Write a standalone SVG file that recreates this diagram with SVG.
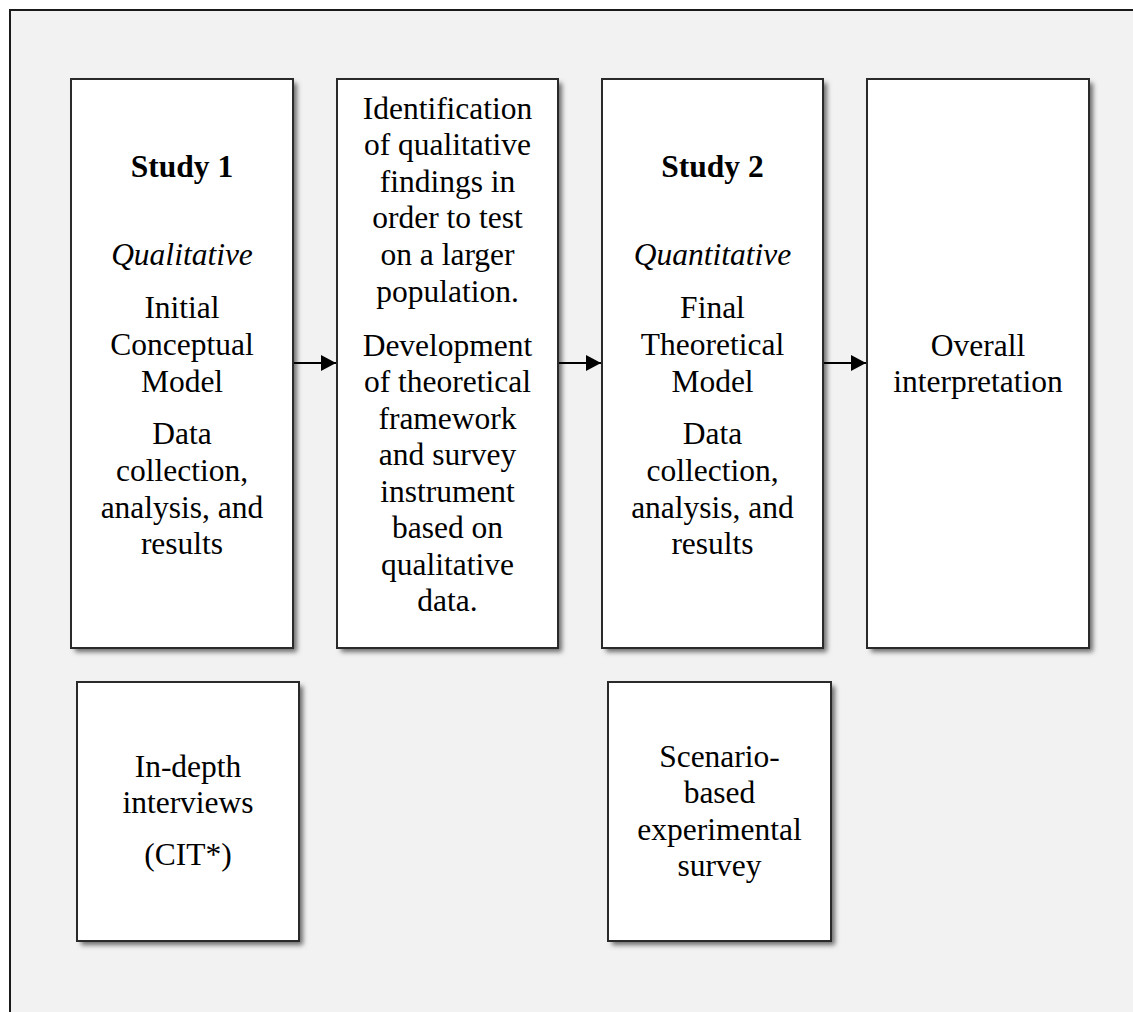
<svg xmlns="http://www.w3.org/2000/svg" width="1133" height="1012" viewBox="0 0 1133 1012">
  <style>
    .box { fill: #ffffff; stroke: #2a2a2a; stroke-width: 2; }
    .shadow { fill: #6a6a6a; filter: url(#soft); }
    .t { font-family: "Liberation Serif", "Times New Roman", serif; font-size: 31.5px; fill: #000; text-anchor: middle; }
    .b { font-weight: bold; }
    .i { font-style: italic; }
    .conn { stroke: #000; stroke-width: 2; fill: none; marker-end: url(#head); }
  </style>
  <defs>
    <filter id="soft" x="-10%" y="-10%" width="130%" height="130%">
      <feGaussianBlur stdDeviation="2.5"/>
    </filter>
    <marker id="head" markerWidth="15" markerHeight="16" refX="15" refY="8" orient="auto" markerUnits="userSpaceOnUse">
      <path d="M0,0 L15,8 L0,16 Z" fill="#000"/>
    </marker>
  </defs>

  <!-- page frame -->
  <rect x="0" y="0" width="1133" height="1012" fill="#ffffff"/>
  <rect x="10" y="10" width="1140" height="1020" fill="#f2f2f2" stroke="#1a1a1a" stroke-width="2"/>

  <!-- Study 1 -->
  <g id="study1">
    <rect class="shadow" x="75" y="83" width="222" height="569"/>
    <rect class="box" x="71" y="79" width="222" height="569"/>
    <text class="t b" x="182" y="177">Study 1</text>
    <text class="t i" x="182" y="265">Qualitative</text>
    <text class="t" x="182" y="318">Initial</text>
    <text class="t" x="182" y="355">Conceptual</text>
    <text class="t" x="182" y="392">Model</text>
    <text class="t" x="182" y="444">Data</text>
    <text class="t" x="182" y="481">collection,</text>
    <text class="t" x="182" y="518">analysis, and</text>
    <text class="t" x="182" y="554">results</text>
  </g>

  <!-- Bridge between studies -->
  <g id="bridge">
    <rect class="shadow" x="341" y="83" width="221" height="569"/>
    <rect class="box" x="337" y="79" width="221" height="569"/>
    <text class="t" x="447.5" y="119">Identification</text>
    <text class="t" x="447.5" y="155">of qualitative</text>
    <text class="t" x="447.5" y="192">findings in</text>
    <text class="t" x="447.5" y="228">order to test</text>
    <text class="t" x="447.5" y="265">on a larger</text>
    <text class="t" x="447.5" y="302">population.</text>
    <text class="t" x="447.5" y="356">Development</text>
    <text class="t" x="447.5" y="392">of theoretical</text>
    <text class="t" x="447.5" y="429">framework</text>
    <text class="t" x="447.5" y="465">and survey</text>
    <text class="t" x="447.5" y="502">instrument</text>
    <text class="t" x="447.5" y="538">based on</text>
    <text class="t" x="447.5" y="575">qualitative</text>
    <text class="t" x="447.5" y="611">data.</text>
  </g>

  <!-- Study 2 -->
  <g id="study2">
    <rect class="shadow" x="606" y="83" width="221" height="569"/>
    <rect class="box" x="602" y="79" width="221" height="569"/>
    <text class="t b" x="712.5" y="177">Study 2</text>
    <text class="t i" x="712.5" y="265">Quantitative</text>
    <text class="t" x="712.5" y="318">Final</text>
    <text class="t" x="712.5" y="355">Theoretical</text>
    <text class="t" x="712.5" y="392">Model</text>
    <text class="t" x="712.5" y="444">Data</text>
    <text class="t" x="712.5" y="481">collection,</text>
    <text class="t" x="712.5" y="518">analysis, and</text>
    <text class="t" x="712.5" y="554">results</text>
  </g>

  <!-- Overall interpretation -->
  <g id="overall">
    <rect class="shadow" x="871" y="83" width="222" height="569"/>
    <rect class="box" x="867" y="79" width="222" height="569"/>
    <text class="t" x="978" y="356">Overall</text>
    <text class="t" x="978" y="392">interpretation</text>
  </g>

  <!-- Study 1 method -->
  <g id="interviews">
    <rect class="shadow" x="81" y="686" width="222" height="259"/>
    <rect class="box" x="77" y="682" width="222" height="259"/>
    <text class="t" x="188" y="777">In-depth</text>
    <text class="t" x="188" y="813">interviews</text>
    <text class="t" x="188" y="865">(CIT*)</text>
  </g>

  <!-- Study 2 method -->
  <g id="survey">
    <rect class="shadow" x="612" y="686" width="223" height="259"/>
    <rect class="box" x="608" y="682" width="223" height="259"/>
    <text class="t" x="719.5" y="767">Scenario-</text>
    <text class="t" x="719.5" y="803">based</text>
    <text class="t" x="719.5" y="840">experimental</text>
    <text class="t" x="719.5" y="876">survey</text>
  </g>

  <!-- connectors -->
  <g id="connectors">
    <line class="conn" x1="294" y1="363" x2="336" y2="363"/>
    <line class="conn" x1="559" y1="363" x2="601" y2="363"/>
    <line class="conn" x1="824" y1="363" x2="866" y2="363"/>
  </g>
</svg>
